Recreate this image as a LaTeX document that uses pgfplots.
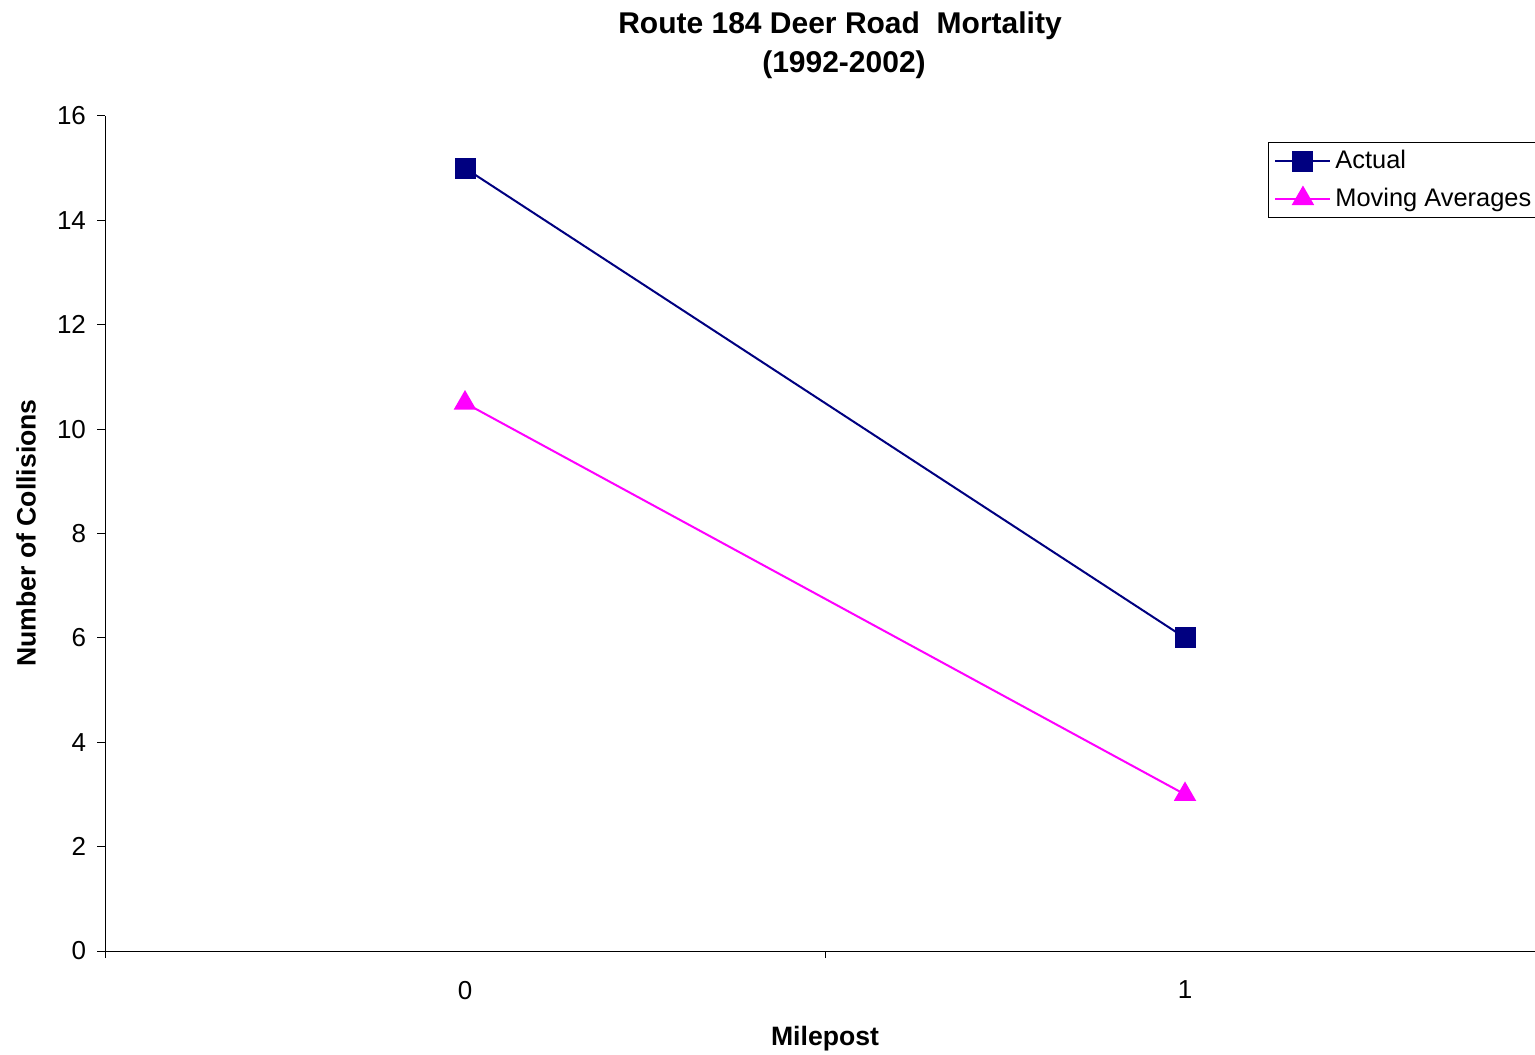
\documentclass[border=0pt]{standalone}
\usepackage{fontspec}
\setmainfont{Liberation Sans}
\usepackage{pgfplots}
\pgfplotsset{compat=1.18}
\definecolor{navyc}{RGB}{0,0,128}
\definecolor{magc}{RGB}{255,0,255}
\begin{document}
\begin{tikzpicture}
\useasboundingbox (0,0) rectangle (767.5bp,527.5bp);
\begin{axis}[
  at={(52.5bp,52bp)}, anchor=south west, scale only axis,
  width=720bp, height=417.5bp,
  xmin=-0.5, xmax=1.5, ymin=0, ymax=16,
  axis lines*=left,
  axis line style={black, line width=0.5bp},
  xtick={0,1}, xticklabels={0,1},
  major x tick style={draw=none},
  minor xtick={-0.5,0.5,1.5},
  ytick={0,2,...,16},
  tick align=outside,
  major tick length=4bp, minor tick length=3.5bp,
  tick style={black, line width=0.5bp},
  ticklabel style={font=\fontsize{13bp}{15bp}\selectfont},
  /pgf/number format/assume math mode=true,
  xticklabel style={yshift=-7.5bp},
  yticklabel style={xshift=-2bp},
  clip=false,
  legend style={at={(0.8076,0.9689)}, anchor=north west, draw=black, line width=0.5bp,
    font=\fontsize{12.7bp}{15bp}\selectfont, inner xsep=3bp, inner ysep=2bp, row sep=4bp},
  legend cell align=left,
  legend image code/.code={\draw[mark repeat=2,mark phase=2] plot coordinates {(0bp,0bp)(13.75bp,0bp)(27.5bp,0bp)};},
]
\addplot[color=navyc, line width=1bp, mark=square*, mark size=4.75bp, mark options={solid}] coordinates {(0,15) (1,6)};
\addlegendentry{Actual}
\addplot[color=magc, line width=1bp, mark=triangle*, mark size=5.5bp, mark options={solid}] coordinates {(0,10.5) (1,3)};
\addlegendentry{Moving Averages\hspace{6bp}}
\end{axis}
\node[font=\fontsize{15bp}{18bp}\selectfont\bfseries] at (420bp,514.5bp) {Route 184 Deer Road\ \ Mortality};
\node[font=\fontsize{15bp}{18bp}\selectfont\bfseries] at (422bp,495bp) {(1992-2002)};
\node[font=\fontsize{13.3bp}{16bp}\selectfont\bfseries] at (412.5bp,8bp) {Milepost};
\node[font=\fontsize{13.3bp}{16bp}\selectfont\bfseries, rotate=90] at (13bp,261bp) {Number of Collisions};
\end{tikzpicture}
\end{document}
